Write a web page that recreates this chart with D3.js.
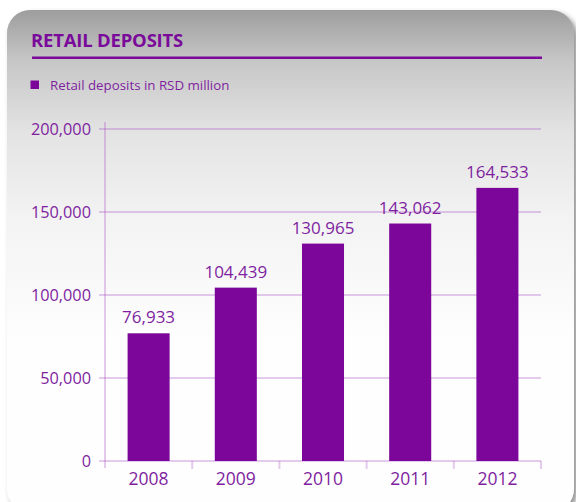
<!DOCTYPE html>
<html>
<head>
<meta charset="utf-8">
<script src="https://cdn.jsdelivr.net/npm/d3@7"></script>
<style>
  html, body { margin: 0; padding: 0; background: #ffffff; }
  svg { display: block; }
  text { font-family: "Open Sans", "DejaVu Sans", sans-serif; }
</style>
</head>
<body>
<svg id="chart" width="576" height="502"></svg>
<script>
// Retail deposits, RSD million
const years = ["2008", "2009", "2010", "2011", "2012"];
const deposits = [76933, 104439, 130965, 143062, 164533];
const yTicks = [0, 50000, 100000, 150000, 200000];
const chartTitle = "RETAIL DEPOSITS";
const legendLabel = "Retail deposits in RSD million";

const W = 576, H = 502;
const purple = "#7b0699";
const textPurple = "#7f1fa0";
const gridColor = "rgba(160, 70, 190, 0.28)";

const svg = d3.select("#chart");
const defs = svg.append("defs");

// panel background: grey at the top fading to white
const grad = defs.append("linearGradient")
  .attr("id", "panelGrad")
  .attr("gradientUnits", "userSpaceOnUse")
  .attr("x1", 0).attr("y1", 10).attr("x2", 0).attr("y2", 340);
[[0, "#9d9d9d"], [0.15, "#c6c6c6"], [0.37, "#e3e3e3"], [0.63, "#f3f3f3"], [1, "#fefefe"]]
  .forEach(([o, c]) => grad.append("stop").attr("offset", o).attr("stop-color", c));

const shadow = defs.append("filter").attr("id", "panelShadow")
  .attr("x", "-10%").attr("y", "-10%").attr("width", "130%").attr("height", "130%");
shadow.append("feDropShadow")
  .attr("dx", 3).attr("dy", 3).attr("stdDeviation", 2.5)
  .attr("flood-color", "#444").attr("flood-opacity", 0.6);

svg.append("rect")
  .attr("x", 7).attr("y", 10)
  .attr("width", 567).attr("height", 502)
  .attr("rx", 23).attr("ry", 23)
  .attr("fill", "url(#panelGrad)")
  .attr("filter", "url(#panelShadow)");

// title and rule
svg.append("text")
  .attr("x", 31).attr("y", 47)
  .attr("font-size", 18.5).attr("font-weight", 700)
  .attr("letter-spacing", -0.2)
  .attr("fill", "#7a0a9a")
  .text(chartTitle);
svg.append("line")
  .attr("x1", 32).attr("x2", 542)
  .attr("y1", 57.7).attr("y2", 57.7)
  .attr("stroke", "#7a0a9a").attr("stroke-width", 2.4);

// legend
svg.append("rect")
  .attr("x", 30.5).attr("y", 80.5).attr("width", 8.5).attr("height", 8.5)
  .attr("fill", purple);
svg.append("text")
  .attr("x", 50).attr("y", 89.5)
  .attr("font-size", 13.3)
  .attr("fill", textPurple)
  .text(legendLabel);

// scales
const x0 = 105, x1 = 541, y0 = 461, y1 = 129;
const x = d3.scaleBand().domain(years).range([x0, x1])
  .paddingInner(0.518).paddingOuter(0.259);
const y = d3.scaleLinear().domain([0, 200000]).range([y0, y1]);
const step = x.step();

// gridlines with left tick stubs
svg.append("g").selectAll("line")
  .data(yTicks)
  .join("line")
  .attr("x1", x0 - 6).attr("x2", x1)
  .attr("y1", d => y(d)).attr("y2", d => y(d))
  .attr("stroke", gridColor).attr("stroke-width", 2);

// vertical axis line
svg.append("line")
  .attr("x1", x0).attr("x2", x0)
  .attr("y1", y1 - 7).attr("y2", y0 + 7)
  .attr("stroke", gridColor).attr("stroke-width", 2);

// category boundary ticks under the baseline
svg.append("g").selectAll("line")
  .data(years.slice(1).concat(["end"]))
  .join("line")
  .attr("x1", (d, i) => x0 + step * (i + 1))
  .attr("x2", (d, i) => x0 + step * (i + 1))
  .attr("y1", y0).attr("y2", y0 + 8)
  .attr("stroke", gridColor).attr("stroke-width", 2);

// y tick labels
svg.append("g").selectAll("text")
  .data(yTicks)
  .join("text")
  .attr("x", 91).attr("y", d => y(d) + 6)
  .attr("text-anchor", "end")
  .attr("font-size", 16.3)
  .attr("fill", textPurple)
  .text(d => d3.format(",")(d));

// bars
svg.append("g").selectAll("rect")
  .data(years)
  .join("rect")
  .attr("x", d => x(d))
  .attr("width", x.bandwidth())
  .attr("y", (d, i) => y(deposits[i]))
  .attr("height", (d, i) => y0 - y(deposits[i]))
  .attr("fill", purple);

// value labels
svg.append("g").selectAll("text")
  .data(years)
  .join("text")
  .attr("x", d => x(d) + x.bandwidth() / 2)
  .attr("y", (d, i) => y(deposits[i]) - 10)
  .attr("text-anchor", "middle")
  .attr("font-size", 17)
  .attr("fill", textPurple)
  .text((d, i) => d3.format(",")(deposits[i]));

// x labels
svg.append("g").selectAll("text")
  .data(years)
  .join("text")
  .attr("x", d => x(d) + x.bandwidth() / 2)
  .attr("y", 485)
  .attr("text-anchor", "middle")
  .attr("font-size", 17.5)
  .attr("fill", textPurple)
  .text(d => d);
</script>
</body>
</html>
